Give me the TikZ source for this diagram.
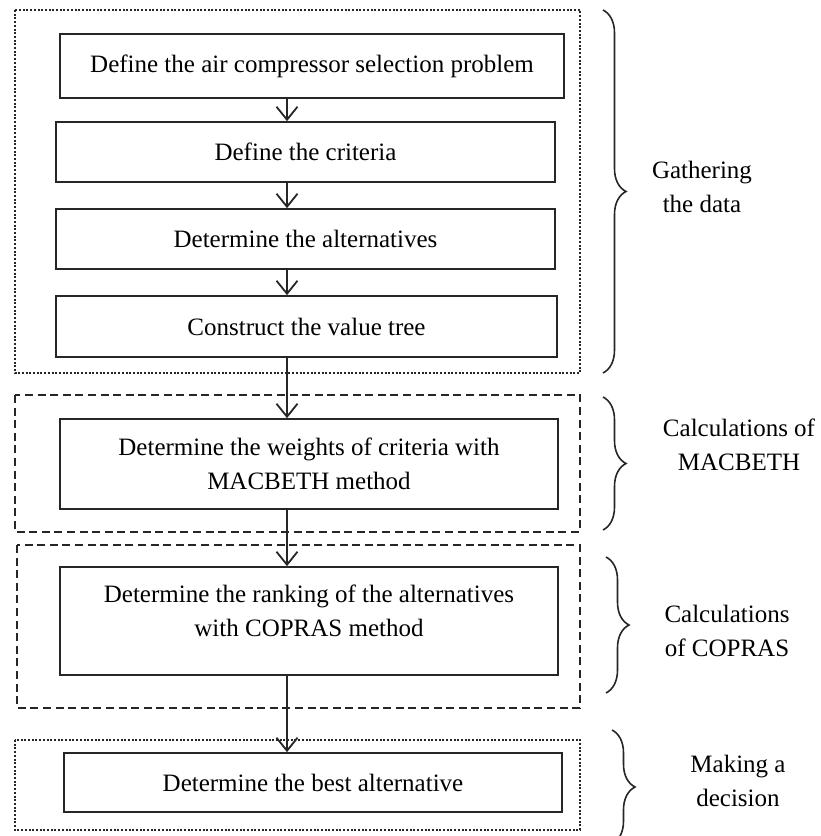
\documentclass[tikz,border=0pt]{standalone}
\usepackage{fontspec}
\setmainfont{Liberation Serif}
\usetikzlibrary{decorations.pathreplacing,arrows.meta}
\tikzset{
  stepbox/.style={draw=black!85, line width=1.7pt, rectangle, inner sep=0pt, align=center},
  dotbox/.style={draw=black!85, line width=2.1pt, dash pattern=on 2pt off 1.7pt},
  dashbox/.style={draw=black!85, line width=2pt, dash pattern=on 8pt off 4.6pt},
  arr/.style={draw=black!85, line width=1.8pt, -{Straight Barb[length=13pt,width=21pt,line width=1.8pt]}},
  brc/.style={draw=black!85, line width=1.6pt, decorate, decoration={brace, amplitude=23pt, aspect=0.5}},
  lbl/.style={align=center, inner sep=0pt},
}
\begin{document}
\begin{tikzpicture}[x=1pt,y=-1pt, font=\fontsize{25}{34}\selectfont]
\useasboundingbox (0,0) rectangle (821,836);
\clip (0,0) rectangle (821,836);
% group frames
\draw[dotbox] (15,10) rectangle (580,373);
\draw[dashbox] (15,395) rectangle (580,532);
\draw[dashbox] (17,545) rectangle (580,708);
\draw[dotbox] (15,740) rectangle (580,830);
% step boxes
\node[stepbox, minimum width=504pt, minimum height=64pt] (b1) at (312,66) {Define the air compressor selection problem};
\node[stepbox, minimum width=499pt, minimum height=60pt] (b2) at (305.5,152) {Define the criteria};
\node[stepbox, minimum width=499pt, minimum height=60pt] (b3) at (305.5,239) {Determine the alternatives};
\node[stepbox, minimum width=501pt, minimum height=61pt] (b4) at (306.5,326.5) {Construct the value tree};
\node[stepbox, minimum width=498pt, minimum height=90pt] (b5) at (309,464) {Determine the weights of criteria with\\MACBETH method};
\node[stepbox, minimum width=498pt, minimum height=108pt] (b6) at (309,621) {};
\node[lbl] (t6) at (309,611) {Determine the ranking of the alternatives\\with COPRAS method};
\node[stepbox, minimum width=498pt, minimum height=59pt] (b7) at (313,782.5) {Determine the best alternative};
% arrows
\coordinate (ax) at (287,0);
\draw[arr] (b1.south -| ax) -- (b2.north -| ax);
\draw[arr] (b2.south -| ax) -- (b3.north -| ax);
\draw[arr] (b3.south -| ax) -- (b4.north -| ax);
\draw[arr] (b4.south -| ax) -- (b5.north -| ax);
\draw[arr] (b5.south -| ax) -- (b6.north -| ax);
\draw[arr] (b6.south -| ax) -- (b7.north -| ax);
% braces
\coordinate (r1a) at (603,10);  \coordinate (r1b) at (603,373);
\coordinate (r2a) at (603,397); \coordinate (r2b) at (603,530);
\coordinate (r3a) at (606,557); \coordinate (r3b) at (606,693);
\coordinate (r4a) at (612,730); \coordinate (r4b) at (612,844);
\draw[brc] (r1a) -- (r1b);
\draw[brc] (r2a) -- (r2b);
\draw[brc] (r3a) -- (r3b);
\draw[brc] (r4a) -- (r4b);
% labels
\node[lbl] (l1) at (702,187) {Gathering\\the data};
\node[lbl] (l2) at (739,445) {Calculations of\\MACBETH};
\node[lbl] (l3) at (727,631) {Calculations\\of COPRAS};
\node[lbl] (l4) at (738,781) {Making a\\decision};
\end{tikzpicture}
\end{document}
